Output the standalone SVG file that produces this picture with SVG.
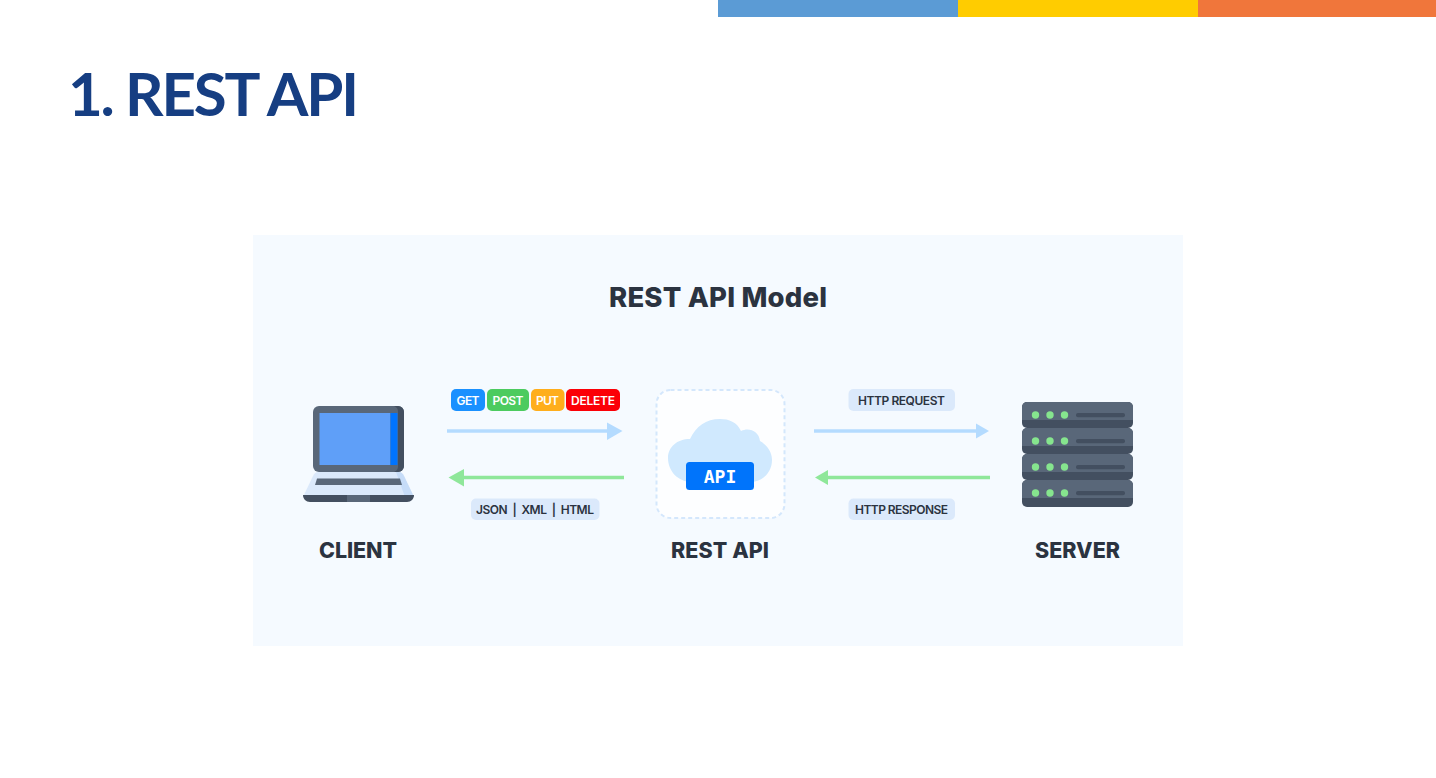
<svg xmlns="http://www.w3.org/2000/svg" width="1436" height="778" viewBox="0 0 1436 778">
<style>
text{font-family:Inter,"Noto Sans","Liberation Sans",sans-serif}
.t{font-size:12px;font-weight:600;fill:#2b3340;text-anchor:middle}
.w{font-size:12px;font-weight:600;fill:#fff;text-anchor:middle}
.c{font-size:21.5px;font-weight:800;fill:#2b3340;text-anchor:middle}
.p{fill:#dbe9fb}
.dk{fill:#596779}.sh{fill:#434f60}.g{fill:#86e58e}
</style>
<rect width="1436" height="778" fill="#fff"/>
<rect x="718" y="0" width="240" height="17" fill="#5b9bd5"/>
<rect x="958" y="0" width="240" height="17" fill="#ffcc00"/>
<rect x="1198" y="0" width="238" height="17" fill="#f0763b"/>
<text x="68" y="116" font-size="60" font-weight="700" textLength="291" style="font-family:Lato,'Noto Sans',sans-serif" fill="#163e82">1. REST API</text>
<rect x="253" y="235" width="930" height="411" fill="#f5faff"/>
<text x="718" y="307" font-size="27.500" font-weight="800" fill="#2b3340" text-anchor="middle" textLength="218">REST API Model</text>

<g id="connectors">
<path d="M447 431H608" stroke="#b4dbff" stroke-width="3.500" fill="none"/><path d="M607 422.500L622.500 431L607 440Z" fill="#b4dbff"/>
<path d="M624 477.500H463" stroke="#8fe79a" stroke-width="3.500" fill="none"/><path d="M464 469L448.500 477.500L464 486.500Z" fill="#8fe79a"/>
<path d="M814 431H977" stroke="#b4dbff" stroke-width="3.500" fill="none"/><path d="M976 423.500L989 431L976 438.500Z" fill="#b4dbff"/>
<path d="M990 477.500H828" stroke="#8fe79a" stroke-width="3.500" fill="none"/><path d="M828 470L815 477.500L828 485Z" fill="#8fe79a"/>
</g>

<g id="client">
<path d="M318 472H399Q402 472 404 476L414 497H303L313 476Q315 472 318 472Z" fill="#dbe9fb"/>
<path d="M396 472H399Q402 472 404 476L414 497H405Z" fill="#c6dcf8"/>
<path d="M317 478.500H400L402 485H315Z" fill="#596779"/>
<path d="M303 495H414C414 499 411 502 407 502H310C306 502 303 499 303 495Z" fill="#434f60"/>
<rect x="347" y="495" width="23" height="7" fill="#596779"/>
<rect x="313" y="406" width="91" height="66" rx="6" fill="#596779"/>
<path d="M394 406H398A6 6 0 0 1 404 412V466A6 6 0 0 1 398 472H394A6 6 0 0 0 398 466V412A6 6 0 0 0 394 406Z" fill="#434f60"/>
<rect x="319.500" y="413" width="71" height="52" fill="#5f9ff8"/>
<rect x="390.500" y="413" width="7" height="52" fill="#0074ff"/>
<text class="c" x="358" y="558" textLength="78">CLIENT</text>
</g>

<g id="rest-api">
<rect x="656.500" y="390" width="128" height="128" rx="14" fill="#fdfeff" stroke="#d4e7fc" stroke-width="2" stroke-dasharray="4 3"/>
<path d="M692 482C678 482 668 471 668 458C668 447 677 439 690 439C696 426 706 419 720 419C729 419 737 422 741 431C749 427 759 431 760 441C767 445 772 452 772 460C772 472 763 482 750 482Z" fill="#d0e9fe"/>
<rect x="686" y="462" width="68" height="28" rx="3.500" fill="#0074fb"/>
<text x="720" y="482.500" font-size="18" font-weight="700" fill="#fff" text-anchor="middle" style="font-family:'DejaVu Sans Mono','Liberation Mono',monospace">API</text>
<text class="c" x="720" y="558" textLength="98">REST API</text>
</g>

<g id="server">
<g id="rack-1"><rect x="1022" y="402" width="111" height="26" rx="5" class="sh"/><path d="M1022 407A5 5 0 0 1 1027 402H1128A5 5 0 0 1 1133 407V420H1022Z" class="dk"/><circle cx="1035.500" cy="415" r="3.700" class="g"/><circle cx="1050" cy="415" r="3.700" class="g"/><circle cx="1064.500" cy="415" r="3.700" class="g"/><rect x="1076" y="413" width="49" height="4.300" rx="2" class="sh"/></g>
<g id="rack-2"><rect x="1022" y="428" width="111" height="26" rx="5" class="sh"/><path d="M1022 433A5 5 0 0 1 1027 428H1128A5 5 0 0 1 1133 433V446H1022Z" class="dk"/><circle cx="1035.500" cy="441" r="3.700" class="g"/><circle cx="1050" cy="441" r="3.700" class="g"/><circle cx="1064.500" cy="441" r="3.700" class="g"/><rect x="1076" y="439" width="49" height="4.300" rx="2" class="sh"/></g>
<g id="rack-3"><rect x="1022" y="454" width="111" height="26" rx="5" class="sh"/><path d="M1022 459A5 5 0 0 1 1027 454H1128A5 5 0 0 1 1133 459V472H1022Z" class="dk"/><circle cx="1035.500" cy="467" r="3.700" class="g"/><circle cx="1050" cy="467" r="3.700" class="g"/><circle cx="1064.500" cy="467" r="3.700" class="g"/><rect x="1076" y="465" width="49" height="4.300" rx="2" class="sh"/></g>
<g id="rack-4"><rect x="1022" y="480" width="111" height="27" rx="5" class="sh"/><path d="M1022 485A5 5 0 0 1 1027 480H1128A5 5 0 0 1 1133 485V498H1022Z" class="dk"/><circle cx="1035.500" cy="493" r="3.700" class="g"/><circle cx="1050" cy="493" r="3.700" class="g"/><circle cx="1064.500" cy="493" r="3.700" class="g"/><rect x="1076" y="491" width="49" height="4.300" rx="2" class="sh"/></g>
<text class="c" x="1077.500" y="558" textLength="85">SERVER</text>
</g>

<g id="label-get"><rect x="451" y="389" width="34" height="22" rx="5" fill="#1a90ff"/><text class="w" x="468" y="404.500" textLength="23">GET</text></g>
<g id="label-post"><rect x="487" y="389" width="42" height="22" rx="5" fill="#4ccb5f"/><text class="w" x="508" y="404.500" textLength="31">POST</text></g>
<g id="label-put"><rect x="531" y="389" width="33.500" height="22" rx="5" fill="#ffae1c"/><text class="w" x="547.500" y="404.500" textLength="23">PUT</text></g>
<g id="label-delete"><rect x="566" y="389" width="54" height="22" rx="5" fill="#fb0007"/><text class="w" x="593" y="404.500" textLength="44">DELETE</text></g>
<g id="label-formats"><rect x="471" y="498.500" width="128.500" height="21.500" rx="5" class="p"/><text class="t" x="535" y="513.500" xml:space="preserve" textLength="118">JSON  |  XML  |  HTML</text></g>
<g id="label-request"><rect x="848.500" y="389" width="106.500" height="22" rx="5" class="p"/><text class="t" x="901.500" y="404.500" textLength="87">HTTP REQUEST</text></g>
<g id="label-response"><rect x="848.500" y="498.500" width="106.500" height="21.500" rx="5" class="p"/><text class="t" x="901.500" y="513.500" textLength="93">HTTP RESPONSE</text></g>
</svg>
